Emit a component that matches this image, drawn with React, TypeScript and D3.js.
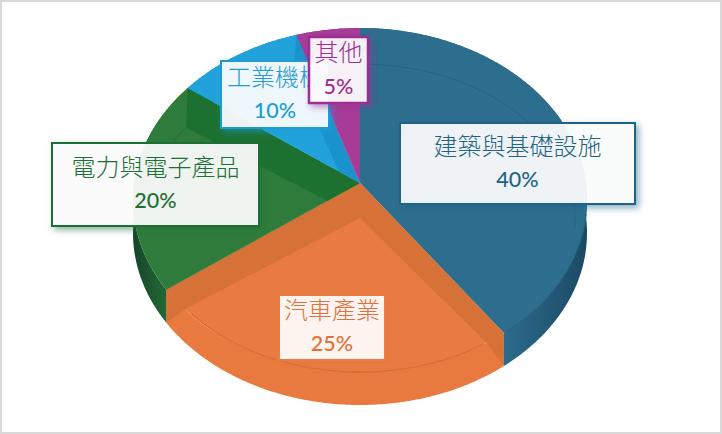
import React, { useRef, useEffect } from 'react';
import { select, pie, line, range } from 'd3';

const categories = ['建築與基礎設施', '汽車產業', '電力與電子產品', '工業機械', '其他'];
const shares = [40, 25, 20, 10, 5];
const baseColors = ['#2d6e8e', '#e97b42', '#2f7b3b', '#21a2da', '#a63c98'];
const bandColors = ['#2d6e8e', '#d67237', '#1c7131', '#1a93cc', '#9b3a93'];
const sideColors = ['url(#sideBlue)', '#e87a40', 'url(#sideGreen)', '#1d90c4', '#9b3a93'];
const textColors = ['#1f6485', '#e2703a', '#1f6e35', '#1f9bd6', '#9c2f92'];
const borderColors = ['#1f6485', '#ea7b42', '#1f6e35', '#1f9bd6', '#9c2f92'];

// x, y, width, height of each label box
const labelBoxes = [
  [400, 123, 235, 81],
  [279, 295, 106, 65],
  [52, 143, 207, 83],
  [221, 61, 108, 67],
  [309, 37, 59, 66],
];

// parts of the inner bevel line that can be seen: from, to (radians), colour
const arcSpans: Array<[number, number, string]> = [
  [0, 1.65, '#24607d'],
  [2.53, 4.05, '#c8622a'],
  [5.2, 5.38, '#25693a'],
];

const dim = {
  width: 722,
  height: 434,
  cx: 360,
  apexY: 183,
  rimY: 200,
  rimRx: 227,
  rimRy: 172,
  innerY: 218,
  innerRx: 215,
  innerRy: 154,
  depth: 33,
};

const fontCJK = '"Noto Sans CJK TC", "Noto Sans", sans-serif';

type Pt = [number, number];

// point on the rim reached by the ray leaving the apex at this pie angle
const rimPoint = (a: number): Pt => {
  const s = Math.sin(a);
  const c = Math.cos(a);
  const k = (dim.apexY - dim.rimY) / dim.rimRy;
  const t = k * c + Math.sqrt(k * k * c * c - k * k + 1);
  return [dim.cx + t * s * dim.rimRx, dim.apexY - t * c * dim.rimRy];
};

const innerPoint = (a: number): Pt => [
  dim.cx + Math.sin(a) * dim.innerRx,
  dim.innerY - Math.cos(a) * dim.innerRy,
];

const App: React.FC = () => {
  const svgRef = useRef<SVGSVGElement>(null);

  useEffect(() => {
    const svg = select(svgRef.current);
    svg.selectAll('*').remove();

    const defs = svg.append('defs');
    textColors.forEach((color, i) => {
      defs
        .append('filter')
        .attr('id', `shadow${i}`)
        .attr('x', '-20%')
        .attr('y', '-20%')
        .attr('width', '150%')
        .attr('height', '150%')
        .append('feDropShadow')
        .attr('dx', 3)
        .attr('dy', 3)
        .attr('stdDeviation', 3)
        .attr('flood-color', color)
        .attr('flood-opacity', 0.55);
    });

    const addFade = (id: string, x1: number, x2: number, from: string, to: string) => {
      const grad = defs
        .append('linearGradient')
        .attr('id', id)
        .attr('gradientUnits', 'userSpaceOnUse')
        .attr('x1', x1)
        .attr('x2', x2)
        .attr('y1', 0)
        .attr('y2', 0);
      grad.append('stop').attr('offset', 0).attr('stop-color', from);
      grad.append('stop').attr('offset', 1).attr('stop-color', to);
    };
    addFade('sideGreen', 137, 172, '#16492a', '#256f38');
    addFade('sideBlue', 505, 588, '#2c6b8b', '#1b4963');

    svg
      .append('rect')
      .attr('x', 1)
      .attr('y', 1)
      .attr('width', dim.width - 2)
      .attr('height', dim.height - 2)
      .attr('fill', '#fff')
      .attr('stroke', '#d9d9d9')
      .attr('stroke-width', 2);

    const slices = pie<number>().sort(null)(shares);
    const path = line();

    const rimOf = (d: any): Pt[] =>
      range(d.startAngle, d.endAngle, 0.01)
        .concat(d.endAngle)
        .map(rimPoint);

    // side wall first, the top faces cover its hidden part
    const sides = svg.append('g');
    slices.forEach((d, i) => {
      const rim = rimOf(d);
      const lower = rim.map(([x, y]): Pt => [x, y + dim.depth]).reverse();
      sides
        .append('path')
        .attr('d', path(rim.concat(lower)))
        .attr('fill', sideColors[i]);
    });

    const tops = svg.append('g');
    slices.forEach((d, i) => {
      const rim = rimOf(d);
      const apex: Pt = [dim.cx, dim.apexY];
      const outline = path([apex].concat(rim)) + 'Z';
      defs.append('clipPath').attr('id', `slice${i}`).append('path').attr('d', outline);

      const face = tops.append('g');
      face.append('path').attr('d', outline).attr('fill', baseColors[i]);

      const inside = face.append('g').attr('clip-path', `url(#slice${i})`);
      [d.startAngle, d.endAngle].forEach((a) => {
        inside
          .append('path')
          .attr('d', path([apex, rimPoint(a), innerPoint(a), [dim.cx, dim.innerY]]) + 'Z')
          .attr('fill', bandColors[i]);
      });
    });

    // rim line and bevel corners that run over the side wall
    const edges = svg.append('g');
    const blue = slices[0];
    edges
      .append('path')
      .attr('d', path(range(1.75, blue.endAngle, 0.01).map(rimPoint)))
      .attr('fill', 'none')
      .attr('stroke', '#1f5a78')
      .attr('stroke-width', 1);
    const orange = slices[1];
    [orange.startAngle, orange.endAngle].forEach((a) => {
      const [rx, ry] = rimPoint(a);
      edges
        .append('path')
        .attr('d', path([[rx, ry], innerPoint(a), [rx, ry + dim.depth]]) + 'Z')
        .attr('fill', bandColors[1]);
    });
    arcSpans.forEach(([from, to, color]) => {
      edges
        .append('path')
        .attr('d', path(range(from, to, 0.01).map(innerPoint)))
        .attr('fill', 'none')
        .attr('stroke', color)
        .attr('stroke-width', 0.9);
    });

    const labels = svg.append('g');
    categories.forEach((name, i) => {
      const [x, y, w, h] = labelBoxes[i];
      const box = labels.append('g');
      box
        .append('rect')
        .attr('x', x)
        .attr('y', y)
        .attr('width', w)
        .attr('height', h)
        .attr('fill', '#fff')
        .attr('fill-opacity', 0.9)
        .attr('stroke', borderColors[i])
        .attr('stroke-width', i === 4 ? 2.5 : 2)
        .attr('filter', `url(#shadow${i})`);
      box
        .append('text')
        .attr('x', x + w / 2)
        .attr('y', y + h / 2 - 17 + 8)
        .attr('text-anchor', 'middle')
        .attr('font-family', fontCJK)
        .attr('font-size', 24)
        .attr('font-weight', 300)
        .attr('fill', textColors[i])
        .text(name);
      box
        .append('text')
        .attr('x', x + w / 2)
        .attr('y', y + h / 2 + 16 + 7.5)
        .attr('text-anchor', 'middle')
        .attr('font-family', 'Lato, sans-serif')
        .attr('font-size', 21.5)
        .attr('font-weight', 500)
        .attr('fill', textColors[i])
        .text(`${shares[i]}%`);
    });
  }, []);

  return (
    <svg
      ref={svgRef}
      width={dim.width}
      height={dim.height}
      style={{ position: 'absolute', left: 0, top: 0, display: 'block' }}
    />
  );
};

export default App;
